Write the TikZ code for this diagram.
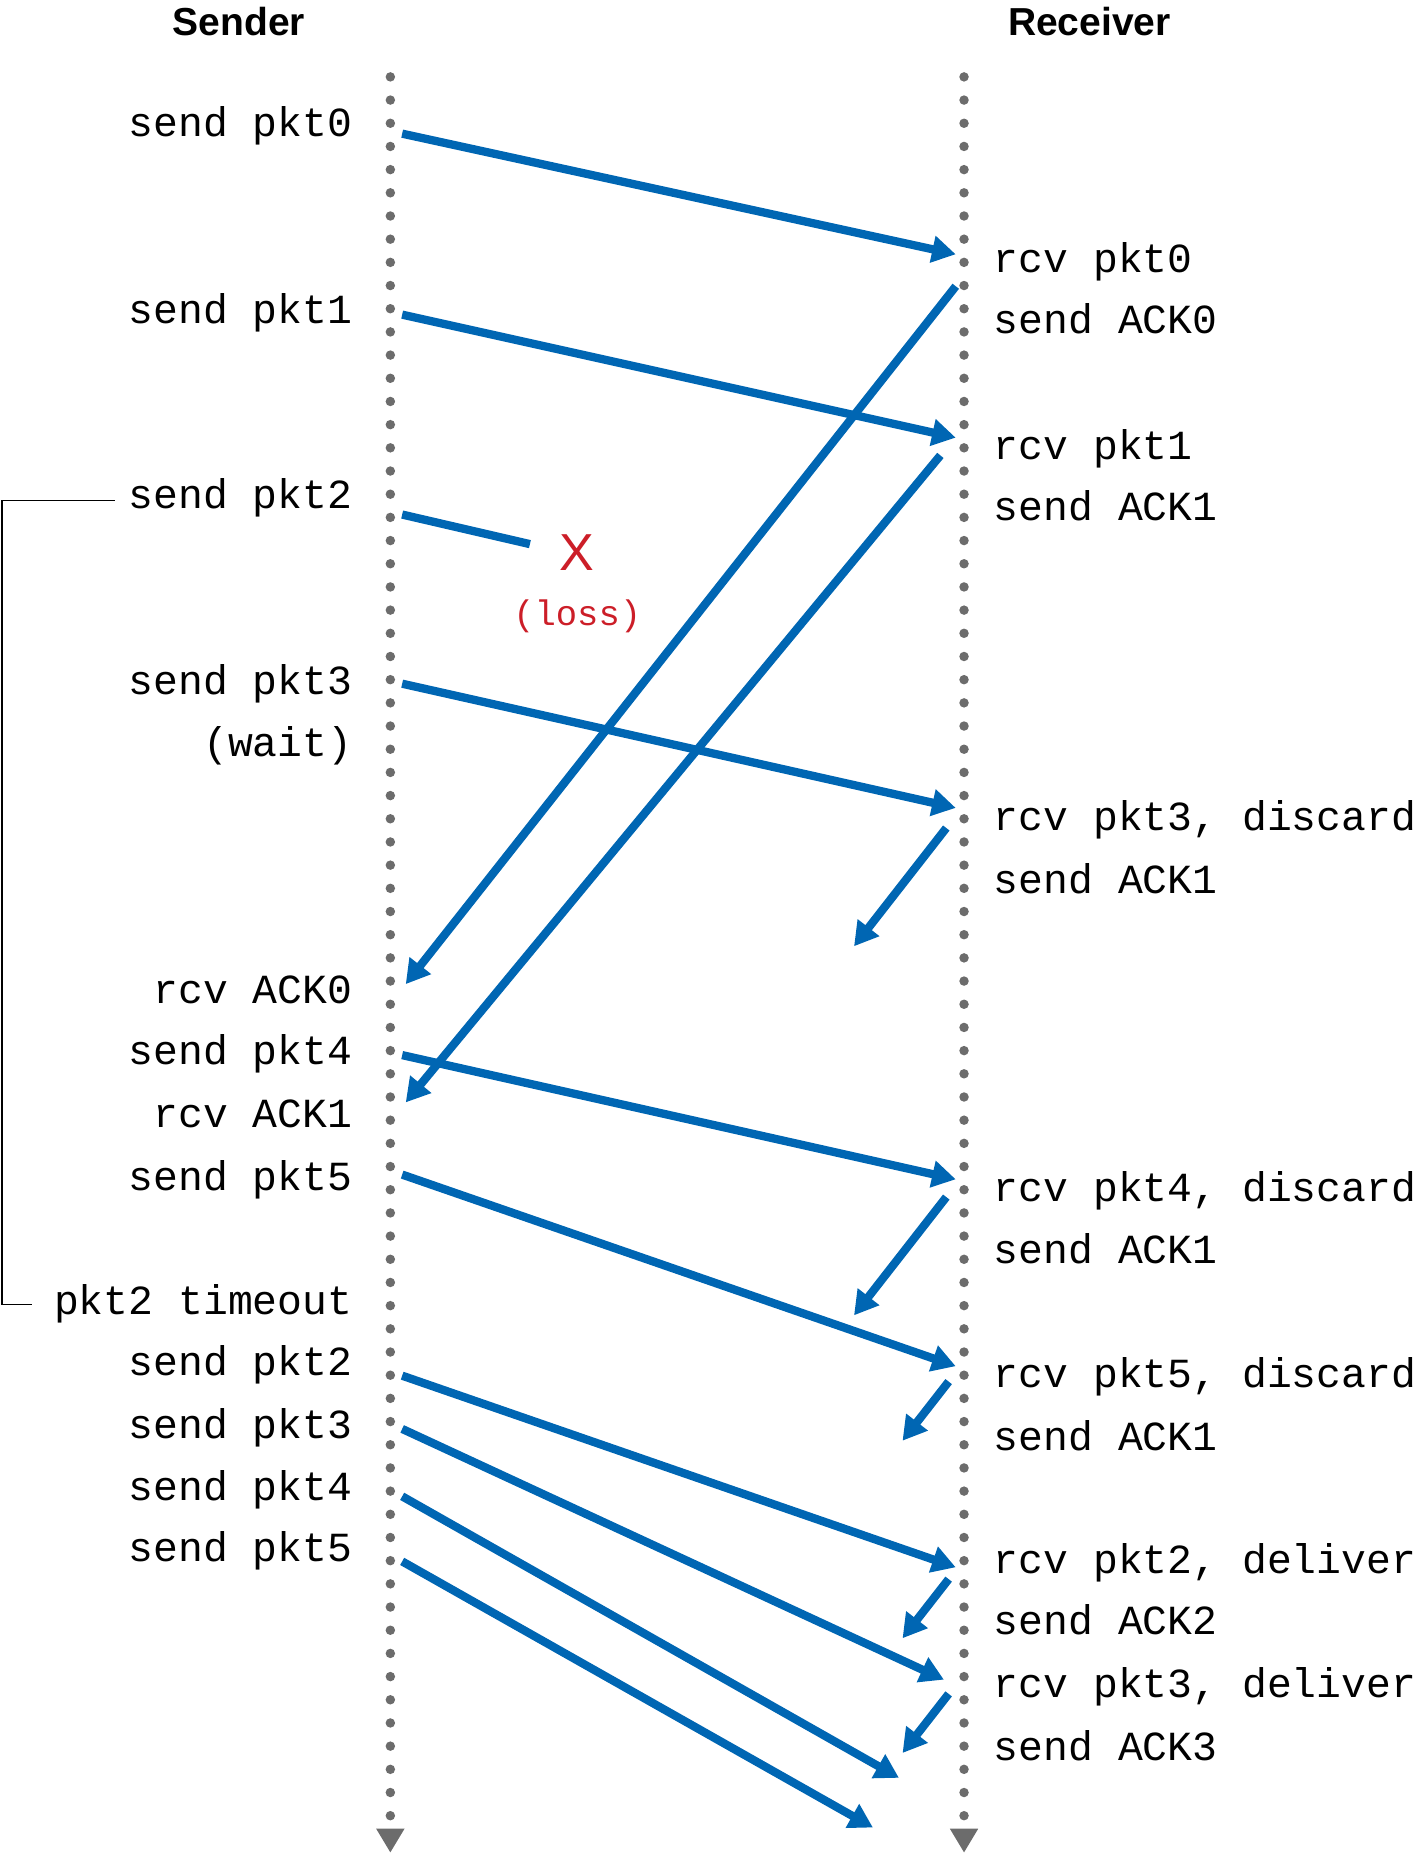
\documentclass[tikz,border=0pt]{standalone}
\usepackage{fontspec}
\newfontfamily\monof{Liberation Mono}
\newfontfamily\sansf{Liberation Sans}
\usetikzlibrary{arrows.meta}
\definecolor{ablue}{RGB}{0,102,179}
\definecolor{lred}{RGB}{204,30,40}
\begin{document}
\begin{tikzpicture}[x=1pt,y=-1pt,
 lt/.style={anchor=mid east,inner sep=0,yshift=-8pt,font=\monof\fontsize{35}{35}\selectfont},
 rt/.style={anchor=mid west,inner sep=0,yshift=-8pt,font=\monof\fontsize{35}{35}\selectfont},
 hd/.style={inner sep=0,font=\sansf\bfseries\fontsize{33}{33}\selectfont},
 msg/.style={ablue,line width=7,-{Triangle[length=20,width=22]}},
 tl/.style={gray!85!black,line width=8,line cap=round,dash pattern=on 0pt off 19.6pt}]
\useasboundingbox (0,0) rectangle (1200,1575);
\node[hd] (hs) at (202,18) {Sender};
\node[hd] (hr) at (921,18) {Receiver};
\coordinate (s0) at (330,65); \coordinate (s1) at (330,1542);
\coordinate (r0) at (815,65); \coordinate (r1) at (815,1542);
\draw[tl] (s0) -- (s1); \draw[tl] (r0) -- (r1);
\fill[gray!85!black] (318,1546) -- (342,1546) -- (330,1566) -- cycle;
\fill[gray!85!black] (803,1546) -- (827,1546) -- (815,1566) -- cycle;
% left labels
\node[lt] (l1) at (298,105) {send pkt0};
\node[lt] (l2) at (298,263) {send pkt1};
\node[lt] (l3) at (298,420) {send pkt2};
\node[lt] (l4) at (298,577) {send pkt3};
\node[lt] (l5) at (298,629) {(wait)};
\node[lt] (l6) at (298,838) {rcv ACK0};
\node[lt] (l7) at (298,890) {send pkt4};
\node[lt] (l8) at (298,943) {rcv ACK1};
\node[lt] (l9) at (298,996) {send pkt5};
\node[lt] (l10) at (298,1101) {pkt2 timeout};
\node[lt] (l11) at (298,1153) {send pkt2};
\node[lt] (l12) at (298,1206) {send pkt3};
\node[lt] (l13) at (298,1258) {send pkt4};
\node[lt] (l14) at (298,1310) {send pkt5};
% right labels
\node[rt] (m1) at (840,220) {rcv pkt0};
\node[rt] (m2) at (840,272) {send ACK0};
\node[rt] (m3) at (840,378) {rcv pkt1};
\node[rt] (m4) at (840,430) {send ACK1};
\node[rt] (m5) at (840,692) {rcv pkt3, discard};
\node[rt] (m6) at (840,745) {send ACK1};
\node[rt] (m7) at (840,1006) {rcv pkt4, discard};
\node[rt] (m8) at (840,1058) {send ACK1};
\node[rt] (m9) at (840,1163) {rcv pkt5, discard};
\node[rt] (m10) at (840,1216) {send ACK1};
\node[rt] (m11) at (840,1320) {rcv pkt2, deliver};
\node[rt] (m12) at (840,1372) {send ACK2};
\node[rt] (m13) at (840,1425) {rcv pkt3, deliver};
\node[rt] (m14) at (840,1478) {send ACK3};
\node[inner sep=0,text=lred,font=\sansf\fontsize{44}{44}\selectfont] (x) at (488,467) {X};
\node[inner sep=0,yshift=-6pt,text=lred,font=\monof\fontsize{30}{30}\selectfont] (loss) at (488,515) {(loss)};
% bracket
\coordinate (b0) at (97,423); \coordinate (b1) at (27,1103);
\draw[line width=1.3] (b0) -- (1.5,423) -- (1.5,1103) -- (b1);
% messages
\coordinate (a1) at (340,113); \coordinate (a2) at (808,215);
\coordinate (a3) at (340,266); \coordinate (a4) at (808,370);
\coordinate (a5) at (340,435); \coordinate (a6) at (448,460);
\coordinate (a7) at (340,578); \coordinate (a8) at (808,683);
\coordinate (k1) at (808,242); \coordinate (k2) at (343,832);
\coordinate (k3) at (795,385); \coordinate (k4) at (343,932);
\coordinate (k5) at (800,700); \coordinate (k6) at (722,800);
\coordinate (a9) at (340,892); \coordinate (a10) at (808,997);
\coordinate (k7) at (800,1012); \coordinate (k8) at (722,1112);
\coordinate (a11) at (340,993); \coordinate (a12) at (808,1155);
\coordinate (k9) at (802,1168); \coordinate (k10) at (763,1218);
\coordinate (a13) at (340,1163); \coordinate (a14) at (808,1325);
\coordinate (k11) at (802,1335); \coordinate (k12) at (763,1385);
\coordinate (a15) at (340,1208); \coordinate (a16) at (798,1420);
\coordinate (k13) at (802,1432); \coordinate (k14) at (763,1482);
\coordinate (a17) at (340,1265); \coordinate (a18) at (760,1503);
\coordinate (a19) at (340,1320); \coordinate (a20) at (738,1545);
\draw[msg] (a1) -- (a2);
\draw[msg] (a3) -- (a4);
\draw[ablue,line width=7] (a5) -- (a6);
\draw[msg] (a7) -- (a8);
\draw[msg] (k1) -- (k2);
\draw[msg] (k3) -- (k4);
\draw[msg] (k5) -- (k6);
\draw[msg] (a9) -- (a10);
\draw[msg] (k7) -- (k8);
\draw[msg] (a11) -- (a12);
\draw[msg] (k9) -- (k10);
\draw[msg] (a13) -- (a14);
\draw[msg] (k11) -- (k12);
\draw[msg] (a15) -- (a16);
\draw[msg] (k13) -- (k14);
\draw[msg] (a17) -- (a18);
\draw[msg] (a19) -- (a20);
\end{tikzpicture}
\end{document}
